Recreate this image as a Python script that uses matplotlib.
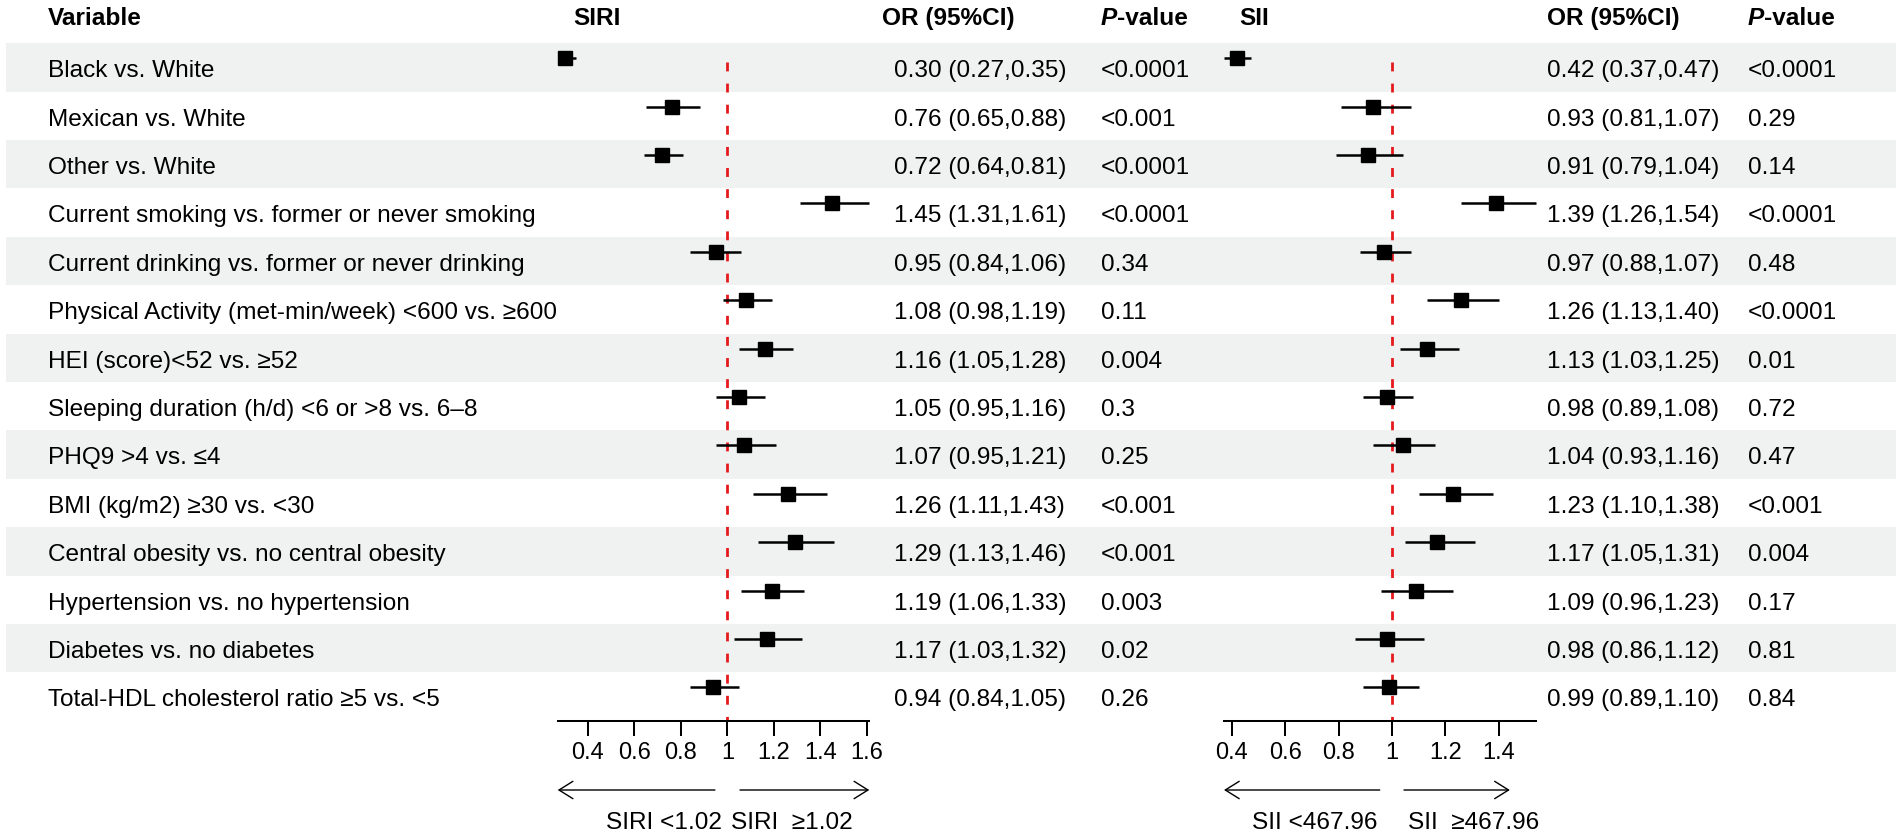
import matplotlib
matplotlib.use("Agg")
import matplotlib.pyplot as plt
from matplotlib.patches import Rectangle

plt.rcParams['font.family'] = ['Liberation Sans', 'DejaVu Sans']

# ---- data ----
variables = [
    "Black vs. White",
    "Mexican vs. White",
    "Other vs. White",
    "Current smoking vs. former or never smoking",
    "Current drinking vs. former or never drinking",
    "Physical Activity (met-min/week) <600 vs. \u2265600",
    "HEI (score)<52 vs. \u226552",
    "Sleeping duration (h/d) <6 or >8 vs. 6\u20138",
    "PHQ9 >4 vs. \u22644",
    "BMI (kg/m2) \u226530 vs. <30",
    "Central obesity vs. no central obesity",
    "Hypertension vs. no hypertension",
    "Diabetes vs. no diabetes",
    "Total-HDL cholesterol ratio \u22655 vs. <5",
]

siri_or = [0.30, 0.76, 0.72, 1.45, 0.95, 1.08, 1.16, 1.05, 1.07, 1.26, 1.29, 1.19, 1.17, 0.94]
siri_lo = [0.27, 0.65, 0.64, 1.31, 0.84, 0.98, 1.05, 0.95, 0.95, 1.11, 1.13, 1.06, 1.03, 0.84]
siri_hi = [0.35, 0.88, 0.81, 1.61, 1.06, 1.19, 1.28, 1.16, 1.21, 1.43, 1.46, 1.33, 1.32, 1.05]
siri_p = ["<0.0001", "<0.001", "<0.0001", "<0.0001", "0.34", "0.11", "0.004",
          "0.3", "0.25", "<0.001", "<0.001", "0.003", "0.02", "0.26"]

sii_or = [0.42, 0.93, 0.91, 1.39, 0.97, 1.26, 1.13, 0.98, 1.04, 1.23, 1.17, 1.09, 0.98, 0.99]
sii_lo = [0.37, 0.81, 0.79, 1.26, 0.88, 1.13, 1.03, 0.89, 0.93, 1.10, 1.05, 0.96, 0.86, 0.89]
sii_hi = [0.47, 1.07, 1.04, 1.54, 1.07, 1.40, 1.25, 1.08, 1.16, 1.38, 1.31, 1.23, 1.12, 1.10]
sii_p = ["<0.0001", "0.29", "0.14", "<0.0001", "0.48", "<0.0001", "0.01",
         "0.72", "0.47", "<0.001", "0.004", "0.17", "0.81", "0.84"]

ticks_siri = [0.4, 0.6, 0.8, 1, 1.2, 1.4, 1.6]
ticks_sii = [0.4, 0.6, 0.8, 1, 1.2, 1.4]
ref_value = 1

# ---- layout (pixels) ----
W, H = 1902, 837
ROW_TOP, ROW_BOT = 44.3, 721.7
n = len(variables)
ROW_H = (ROW_BOT - ROW_TOP) / n
FS = 17.6
BAND = '#eff2f1'
RED = '#e41a1c'


def row_center(i):
    return ROW_TOP + (i + 0.5) * ROW_H


fig = plt.figure(figsize=(W / 100, H / 100), dpi=100)
bg = fig.add_axes([0, 0, 1, 1])
bg.set_xlim(0, W)
bg.set_ylim(H, 0)
bg.axis('off')

# alternating row bands
for i in range(0, n, 2):
    bg.add_patch(Rectangle((6, ROW_TOP + i * ROW_H), 1890, ROW_H,
                           facecolor=BAND, edgecolor='none', zorder=0))

# header
HDR_Y = 25
bg.text(48, HDR_Y, "Variable", fontsize=FS, fontweight='bold', va='baseline')
bg.text(597, HDR_Y, "SIRI", fontsize=FS, fontweight='bold', va='baseline', ha='center')
bg.text(1254, HDR_Y, "SII", fontsize=FS, fontweight='bold', va='baseline', ha='center')
bg.text(882, HDR_Y, "OR (95%CI)", fontsize=FS, fontweight='bold', va='baseline')
bg.text(1547, HDR_Y, "OR (95%CI)", fontsize=FS, fontweight='bold', va='baseline')
for px in (1101, 1748):
    tp = bg.text(px, HDR_Y, "P", fontsize=FS, fontweight='bold', style='italic', va='baseline')
    bg.annotate("-value", xy=(1, 0), xycoords=tp, fontsize=FS, fontweight='bold',
                va='bottom', ha='left')

# table body
for i in range(n):
    yb = row_center(i) + 8.8
    bg.text(48, yb, variables[i], fontsize=FS, va='baseline')
    bg.text(894, yb, f"{siri_or[i]:.2f} ({siri_lo[i]:.2f},{siri_hi[i]:.2f})",
            fontsize=FS, va='baseline')
    bg.text(1101, yb, siri_p[i], fontsize=FS, va='baseline')
    bg.text(1547, yb, f"{sii_or[i]:.2f} ({sii_lo[i]:.2f},{sii_hi[i]:.2f})",
            fontsize=FS, va='baseline')
    bg.text(1748, yb, sii_p[i], fontsize=FS, va='baseline')


def forest(px_left, px_right, xlim, est, lo, hi, ticks, arrows, labels):
    ax = fig.add_axes([px_left / W, (H - ROW_BOT) / H,
                       (px_right - px_left) / W, (ROW_BOT - ROW_TOP) / H])
    ax.set_xlim(*xlim)
    ax.set_ylim(n, 0)
    ax.patch.set_alpha(0)
    for s in ('top', 'left', 'right'):
        ax.spines[s].set_visible(False)
    ax.spines['bottom'].set_linewidth(1.45)
    ax.set_yticks([])
    ax.set_xticks(ticks)
    ax.set_xticklabels([f"{t:g}" for t in ticks])
    ax.tick_params(axis='x', direction='out', length=10.8, width=1.45,
                   pad=4, labelsize=17)

    # reference line
    ax.plot([ref_value, ref_value], [(63 - ROW_TOP) / ROW_H, n], color=RED,
            lw=2.0, linestyle=(0, (3.2, 4.4)), zorder=1, clip_on=False)

    ys = [i + 0.5 - 9.2 / ROW_H for i in range(n)]
    for y, e, l, h in zip(ys, est, lo, hi):
        ax.plot([l, h], [y, y], color='black', lw=1.8, zorder=2,
                solid_capstyle='butt', clip_on=False)
    ax.plot(est, ys, 's', color='black', markersize=9.4, zorder=3, clip_on=False)

    # direction arrows under the axis
    ya = (791 - ROW_TOP) / ROW_H
    for x0, x1 in arrows:
        ax.annotate('', xy=(x1, ya), xytext=(x0, ya), annotation_clip=False,
                    arrowprops=dict(arrowstyle='->,head_length=0.4,head_width=0.25',
                                    mutation_scale=25, lw=1.0, color='black',
                                    shrinkA=0, shrinkB=0))
    yl = (829 - ROW_TOP) / ROW_H
    (lx, ltxt), (rx, rtxt) = labels
    ax.text(lx, yl, ltxt, fontsize=FS, ha='right', va='baseline', clip_on=False)
    ax.text(rx, yl, rtxt, fontsize=FS, ha='left', va='baseline', clip_on=False)
    return ax


forest(557.7, 869.3, (0.27, 1.61), siri_or, siri_lo, siri_hi, ticks_siri,
       arrows=[(0.946, 0.27), (1.054, 1.61)],
       labels=[(0.975, "SIRI <1.02"), (1.015, "SIRI  \u22651.02")])
forest(1224, 1536, (0.37, 1.54), sii_or, sii_lo, sii_hi, ticks_sii,
       arrows=[(0.954, 0.37), (1.045, 1.442)],
       labels=[(0.947, "SII <467.96"), (1.059, "SII  \u2265467.96")])

fig.savefig("out.png", dpi=100)
